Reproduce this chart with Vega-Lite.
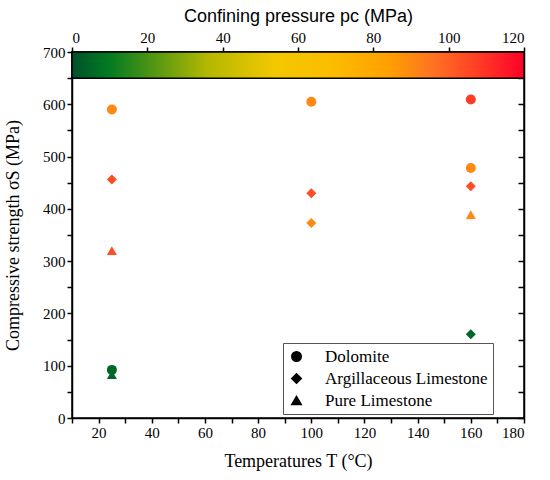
{
  "$schema": "https://vega.github.io/schema/vega-lite/v6.json",
  "autosize": "none",
  "width": 452,
  "height": 366,
  "padding": {"left": 72, "top": 52, "right": 26, "bottom": 62},
  "background": "white",
  "config": {
    "font": "Liberation Serif",
    "view": {"stroke": "black", "strokeWidth": 1.5},
    "axis": {
      "domainColor": "black",
      "domainWidth": 1.5,
      "tickColor": "black",
      "tickWidth": 1.5,
      "tickSize": 5,
      "grid": false,
      "labelFont": "Liberation Serif",
      "labelFontSize": 15,
      "labelColor": "black",
      "titleFont": "Liberation Serif",
      "titleFontSize": 18,
      "titleFontWeight": "normal",
      "titleColor": "black"
    }
  },
  "data": {
    "values": [
      {"T": 25, "S": 590, "P": 90, "Rock": "Dolomite"},
      {"T": 25, "S": 456, "P": 105, "Rock": "Argillaceous Limestone"},
      {"T": 25, "S": 320, "P": 105, "Rock": "Pure Limestone"},
      {"T": 25, "S": 92, "P": 5, "Rock": "Dolomite"},
      {"T": 25, "S": 83, "P": 5, "Rock": "Pure Limestone"},
      {"T": 100, "S": 605, "P": 90, "Rock": "Dolomite"},
      {"T": 100, "S": 430, "P": 105, "Rock": "Argillaceous Limestone"},
      {"T": 100, "S": 373, "P": 90, "Rock": "Argillaceous Limestone"},
      {"T": 160, "S": 609, "P": 108, "Rock": "Dolomite"},
      {"T": 160, "S": 478, "P": 90, "Rock": "Dolomite"},
      {"T": 160, "S": 443, "P": 105, "Rock": "Argillaceous Limestone"},
      {"T": 160, "S": 389, "P": 90, "Rock": "Pure Limestone"},
      {"T": 160, "S": 160, "P": 5, "Rock": "Argillaceous Limestone"}
    ]
  },
  "layer": [
    {
      "data": {"values": [{}]},
      "mark": {
        "type": "rect",
        "stroke": "black",
        "strokeWidth": 1.5,
        "fill": {
          "gradient": "linear",
          "x1": 0, "x2": 1, "y1": 0, "y2": 0,
          "stops": [
            {"offset": 0, "color": "#00502a"},
            {"offset": 0.08, "color": "#007a22"},
            {"offset": 0.3, "color": "#b3b800"},
            {"offset": 0.45, "color": "#f3c800"},
            {"offset": 0.57, "color": "#fcbd00"},
            {"offset": 0.7, "color": "#ffa000"},
            {"offset": 0.8, "color": "#ff7222"},
            {"offset": 0.9, "color": "#ff3c25"},
            {"offset": 1, "color": "#ff0028"}
          ]
        }
      },
      "encoding": {
        "x": {
          "datum": 0,
          "type": "quantitative",
          "scale": {"domain": [0, 120], "nice": false},
          "axis": {
            "orient": "top",
            "values": [0, 20, 40, 60, 80, 100, 120],
            "labelFont": "Liberation Serif",
            "title": "Confining pressure pc (MPa)",
            "titleFont": "Liberation Sans",
            "titleFontSize": 18,
            "titlePadding": 5
          }
        },
        "x2": {"datum": 120},
        "y": {
          "datum": 650,
          "type": "quantitative",
          "scale": {"domain": [0, 700], "nice": false},
          "axis": {
            "orient": "right",
            "values": [0, 50, 100, 150, 200, 250, 300, 350, 400, 450, 500, 550, 600, 650, 700],
            "labels": false,
            "title": null,
            "tickSize": -6
          }
        },
        "y2": {"datum": 700}
      }
    },
    {
      "mark": {"type": "point", "filled": true, "opacity": 1, "size": 100},
      "encoding": {
        "x": {
          "field": "T",
          "type": "quantitative",
          "scale": {"domain": [10, 180], "nice": false},
          "axis": {
            "orient": "bottom",
            "values": [10, 20, 30, 40, 50, 60, 70, 80, 90, 100, 110, 120, 130, 140, 150, 160, 170, 180],
            "labelExpr": "datum.value % 20 == 0 ? datum.label : ''",
            "labelFont": "Liberation Serif",
            "title": "Temperatures T (°C)",
            "titlePadding": 12
          }
        },
        "y": {
          "field": "S",
          "type": "quantitative",
          "scale": {"domain": [0, 700], "nice": false},
          "axis": {
            "orient": "left",
            "values": [0, 50, 100, 150, 200, 250, 300, 350, 400, 450, 500, 550, 600, 650, 700],
            "labelExpr": "datum.value % 100 == 0 ? datum.label : ''",
            "labelFont": "Liberation Serif",
            "title": "Compressive strength σS (MPa)",
            "titlePadding": 20
          }
        },
        "shape": {
          "field": "Rock",
          "type": "nominal",
          "scale": {
            "domain": ["Dolomite", "Argillaceous Limestone", "Pure Limestone"],
            "range": ["circle", "diamond", "triangle-up"]
          },
          "legend": {
            "title": null,
            "orient": "none",
            "legendX": 211,
            "legendY": 291,
            "padding": 5,
            "strokeColor": "#555",
            "fillColor": "white",
            "symbolFillColor": "black",
            "symbolStrokeColor": "black",
            "symbolSize": 90,
            "labelFont": "Liberation Serif",
            "labelFontSize": 17,
            "labelColor": "black",
            "labelLimit": 400,
            "rowPadding": 4,
            "labelOffset": 20
          }
        },
        "color": {
          "field": "P",
          "type": "quantitative",
          "scale": {
            "domain": [0, 9.6, 36, 54, 68.4, 84, 96, 108, 120],
            "range": ["#00502a", "#007a22", "#b3b800", "#f3c800", "#fcbd00", "#ffa000", "#ff7222", "#ff3c25", "#ff0028"]
          },
          "legend": null
        }
      }
    }
  ],
  "resolve": {"scale": {"x": "independent", "y": "independent"}}
}
